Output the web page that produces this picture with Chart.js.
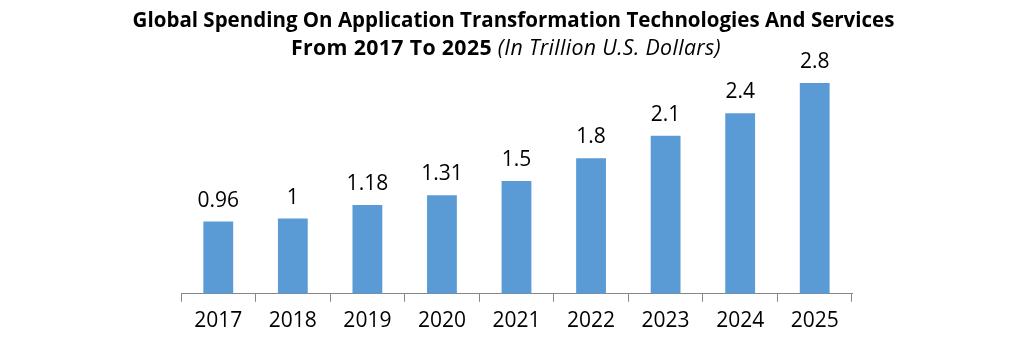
<!DOCTYPE html>
<html><head><meta charset="utf-8">
<script src="https://cdn.jsdelivr.net/npm/chart.js@4"></script>
<style>
html,body{margin:0;padding:0;background:#fff;overflow:hidden;}
#wrap{position:relative;width:1021px;height:338px;overflow:hidden;}
.t{position:absolute;left:0;text-align:center;font-family:"Open Sans",sans-serif;color:#000;white-space:nowrap;}
#t1{top:6px;width:1027px;font-size:20.5px;line-height:27px;font-weight:700;}
#t2{top:33px;width:1012px;font-size:21.3px;line-height:27px;letter-spacing:0.35px;}
#t2 b{font-weight:700;}
#t2 i{font-weight:400;font-style:italic;}
canvas{position:absolute;left:0;top:0;}
</style></head>
<body><div id="wrap"><canvas id="c" width="1021" height="341"></canvas>
<div class="t" id="t1">Global Spending On Application Transformation Technologies And Services</div>
<div class="t" id="t2"><b>From 2017 To 2025</b> <i>(In Trillion U.S. Dollars)</i></div></div>
<script>
const categories = ["2017","2018","2019","2020","2021","2022","2023","2024","2025"];
const spending = [0.96, 1, 1.18, 1.31, 1.5, 1.8, 2.1, 2.4, 2.8];
const valueLabels = ["0.96","1","1.18","1.31","1.5","1.8","2.1","2.4","2.8"];

const labelPlugin = {
  id: 'valueLabels',
  afterDatasetsDraw(chart) {
    const ctx = chart.ctx;
    const meta = chart.getDatasetMeta(0);
    ctx.save();
    ctx.font = '21px "Open Sans", sans-serif';
    ctx.fillStyle = '#000';
    ctx.textAlign = 'center';
    ctx.textBaseline = 'alphabetic';
    meta.data.forEach((bar, i) => {
      ctx.fillText(valueLabels[i], bar.x, bar.y - 15);
    });
    ctx.restore();
  }
};

new Chart(document.getElementById('c'), {
  type: 'bar',
  data: { labels: categories, datasets: [{ data: spending, backgroundColor: '#5B9BD5', borderWidth: 0, categoryPercentage: 1, barPercentage: 0.4 }] },
  options: {
    responsive: false, animation: false,
    layout: { padding: { left: 181, right: 169, top: 68, bottom: 0 } },
    plugins: { legend: { display: false }, tooltip: { enabled: false }, title: { display: false } },
    scales: {
      x: {
        offset: true,
        grid: { offset: true, drawOnChartArea: false, drawTicks: true, tickLength: 8, color: '#868686', lineWidth: 1 },
        border: { display: true, color: '#868686', width: 1 },
        ticks: { color: '#000', padding: 7, font: { family: '"Open Sans", sans-serif', size: 21 } }
      },
      y: { display: false, min: 0, max: 3 }
    }
  },
  plugins: [labelPlugin]
});
</script></body></html>
